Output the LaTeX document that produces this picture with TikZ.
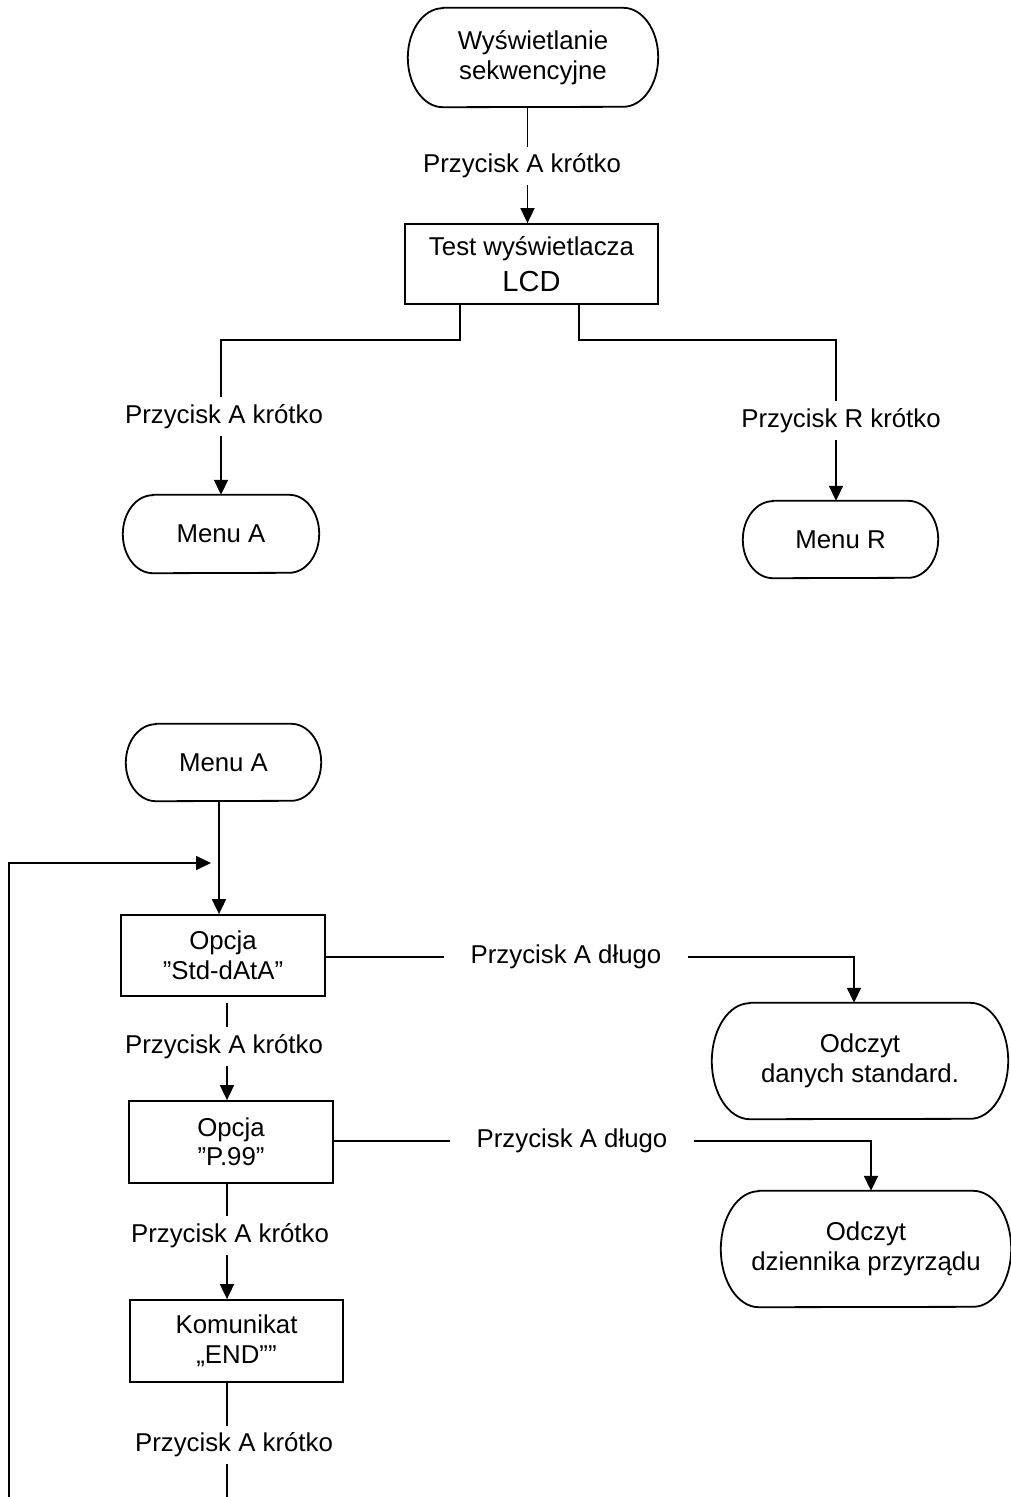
\documentclass[tikz,border=0pt]{standalone}
\usepackage{fontspec}
\setmainfont{Liberation Sans}
\usetikzlibrary{arrows.meta}
\newcommand{\termshape}[3]{%
  \draw[conn] ([xshift=#2]#1.north west) -- ([xshift=-#2]#1.north east)
    arc[start angle=90,end angle=-90,x radius=#2,y radius=#3]
    -- ([xshift=#2]#1.south west)
    arc[start angle=270,end angle=90,x radius=#2,y radius=#3] -- cycle;}
\begin{document}
\begin{tikzpicture}[x=1pt,y=-1pt,
  base/.style={font=\fontsize{25.8}{29.5}\selectfont, align=center, inner sep=0pt},
  procbox/.style={base, draw, line width=1.8pt},
  termnode/.style={base},
  lbl/.style={base, minimum height=38pt, text height=18.5pt, text depth=5.5pt},
  hlbl/.style={lbl, inner xsep=26pt},
  conn/.style={line width=1.8pt},
  arr/.style={conn, -{Triangle[length=15pt,width=14pt]}}]
\fill[white] (0,0) rectangle (1011,1497);
\useasboundingbox (0,0) rectangle (1011,1497);

% nodes
\node[termnode, minimum width=250pt, minimum height=99pt] (start) at (533,57.5) {Wyświetlanie\\sekwencyjne};
\termshape{start}{35pt}{49.5pt}
\node[procbox, minimum width=253pt, minimum height=80pt] (test) at (531.5,264) {Test wyświetlacza\\[6pt]{\fontsize{29}{29}\selectfont LCD}};
\node[lbl] (l1) at (522,166) {Przycisk A krótko};
\node[lbl] (l2) at (224,416.5) {Przycisk A krótko};
\node[lbl] (l3) at (841,420.5) {Przycisk R krótko};
\node[termnode, minimum width=196pt, minimum height=78pt] (menuA1) at (221,534) {Menu A};
\termshape{menuA1}{30pt}{39pt}
\node[termnode, minimum width=195pt, minimum height=77pt] (menuR) at (840.5,539.5) {Menu R};
\termshape{menuR}{30pt}{38.5pt}

\node[termnode, minimum width=195pt, minimum height=77pt] (menuA2) at (223.5,762.5) {Menu A};
\termshape{menuA2}{30pt}{38.5pt}
\node[procbox, minimum width=204pt, minimum height=81pt] (std) at (223,955.5) {Opcja\\”Std-dAtA”};
\node[hlbl] (l4) at (566,957) {Przycisk A długo};
\node[termnode, minimum width=296pt, minimum height=116pt] (odc1) at (860,1061) {Odczyt\\danych standard.};
\termshape{odc1}{38pt}{58pt}
\node[lbl] (l5) at (224,1046.5) {Przycisk A krótko};
\node[procbox, minimum width=204pt, minimum height=82pt] (p99) at (231,1142) {Opcja\\”P.99”};
\node[hlbl] (l6) at (572,1141) {Przycisk A długo};
\node[termnode, minimum width=290pt, minimum height=116pt] (odc2) at (866,1249) {Odczyt\\dziennika przyrządu};
\termshape{odc2}{38pt}{58pt}
\node[lbl] (l7) at (230,1235.5) {Przycisk A krótko};
\node[procbox, minimum width=213pt, minimum height=82pt] (kom) at (236.5,1341) {Komunikat\\„END””};
\node[lbl] (l8) at (234,1445) {Przycisk A krótko};

% helper coordinates
\coordinate (cT) at (527.5,0);
\coordinate (jl) at (221,340);
\coordinate (jr) at (836,340);
\coordinate (cA) at (219,0);
\coordinate (cB) at (227,0);
\coordinate (d1) at (854,0);
\coordinate (d2) at (871,0);
\coordinate (s1) at (227,1003);
\coordinate (loopstart) at (9,1497);
\coordinate (loopend) at (211,863);
\coordinate (bottomend) at (227,1497);

% connectors
\draw[conn] (start.south -| cT) -- (l1.north -| cT);
\draw[arr] (l1.south -| cT) -- (test.north -| cT);
\draw[conn] ([xshift=-71.5pt]test.south) |- (jl) -- (l2.north -| jl);
\draw[arr] (l2.south -| jl) -- (menuA1.north -| jl);
\draw[conn] ([xshift=47.5pt]test.south) |- (jr) -- (l3.north -| jr);
\draw[arr] (l3.south -| jr) -- (menuR.north -| jr);

\draw[arr] (menuA2.south -| cA) -- (std.north -| cA);
\draw[arr] (loopstart) |- (loopend);
\draw[conn] (std.east |- l4) -- (l4.west);
\draw[arr] (l4.east) -| (odc1.north -| d1);
\draw[conn] (s1) -- (l5.north -| cB);
\draw[arr] (l5.south -| cB) -- (p99.north -| cB);
\draw[conn] (p99.east |- l6) -- (l6.west);
\draw[arr] (l6.east) -| (odc2.north -| d2);
\draw[conn] (p99.south -| cB) -- (l7.north -| cB);
\draw[arr] (l7.south -| cB) -- (kom.north -| cB);
\draw[conn] (kom.south -| cB) -- (l8.north -| cB);
\draw[conn] (l8.south -| cB) -- (bottomend);
\end{tikzpicture}
\end{document}
